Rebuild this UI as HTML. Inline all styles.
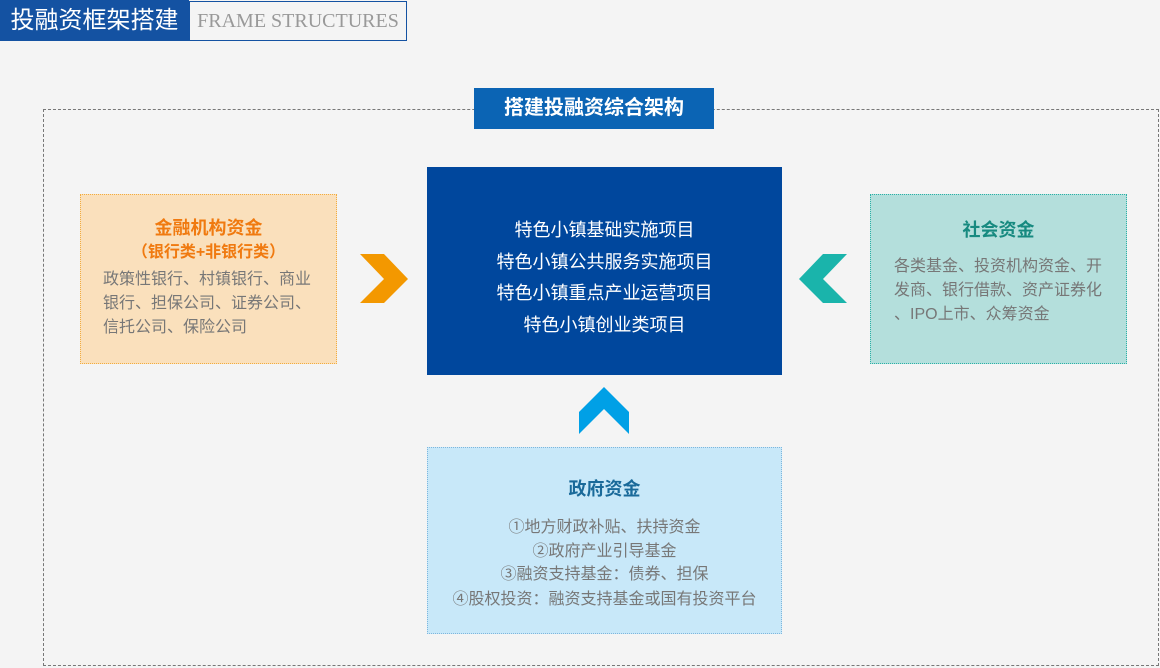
<!DOCTYPE html>
<html><head><meta charset="utf-8"><style>
body{margin:0;width:1160px;height:668px;background:#f4f4f4;position:relative;overflow:hidden;font-family:"Liberation Sans","Noto Sans CJK SC",sans-serif}
.a{position:absolute;box-sizing:border-box}
.c{text-align:center;left:0;right:0;position:absolute;white-space:nowrap}
</style></head><body>
<div class="a" style="left:0;top:0;width:189px;height:41px;background:#1452a2;color:#fff;font-size:24px;line-height:41px;text-align:center">投融资框架搭建</div>
<div class="a" style="left:189px;top:1px;width:218px;height:40px;border:1px solid #1452a2;color:#999;font-family:'Liberation Serif',serif;font-size:20px;line-height:38px;text-align:center">FRAME STRUCTURES</div>
<div class="a" style="left:43px;top:109px;width:1116px;height:557px;border:1px dashed #777"></div>
<div class="a" style="left:474px;top:88px;width:240px;height:41px;background:#0b64b4;color:#fff;font-size:20px;font-weight:bold;line-height:41px;text-align:center">搭建投融资综合架构</div>

<div class="a" style="left:80px;top:194px;width:257px;height:170px;background:#fae0bc;border:1px dotted #f2ac3f">
<div class="c" style="top:19px;color:#f07a10;font-weight:bold;font-size:18px">金融机构资金</div>
<div class="c" style="top:43px;color:#f07a10;font-weight:bold;font-size:16px">（银行类+非银行类）</div>
<div style="position:absolute;left:22px;top:73px;white-space:nowrap;color:#777;font-size:16px;line-height:24px">政策性银行、村镇银行、商业<br>银行、担保公司、证券公司、<br>信托公司、保险公司</div>
</div>

<div class="a" style="left:427px;top:167px;width:355px;height:208px;background:#00479d;color:#fff;font-size:18px">
<div class="c" style="top:49px">特色小镇基础实施项目</div>
<div class="c" style="top:81px">特色小镇公共服务实施项目</div>
<div class="c" style="top:112px">特色小镇重点产业运营项目</div>
<div class="c" style="top:144px">特色小镇创业类项目</div>
</div>

<div class="a" style="left:870px;top:194px;width:257px;height:170px;background:#b4dfdc;border:1px dotted #2ab0a6">
<div class="c" style="top:21px;color:#178a80;font-weight:bold;font-size:18px">社会资金</div>
<div style="position:absolute;left:23px;top:60px;white-space:nowrap;color:#777;font-size:16px;line-height:24px">各类基金、投资机构资金、开<br>发商、银行借款、资产证券化<br>、IPO上市、众筹资金</div>
</div>

<div class="a" style="left:427px;top:447px;width:355px;height:187px;background:#c8e8f9;border:1px dotted #7fb6dc;color:#777;font-size:16px">
<div class="c" style="top:27px;color:#1a6a9a;font-weight:bold;font-size:18px">政府资金</div>
<div class="c" style="top:65px">①地方财政补贴、扶持资金</div>
<div class="c" style="top:89px">②政府产业引导基金</div>
<div class="c" style="top:112px">③融资支持基金：债券、担保</div>
<div class="c" style="top:137px">④股权投资：融资支持基金或国有投资平台</div>
</div>

<svg class="a" style="left:0;top:0" width="1160" height="668">
<polygon points="360,254 384,254 408,279 384,303 360,303 384,279" fill="#f39800"/>
<polygon points="847,254 823,254 799,279 823,303 847,303 823,279" fill="#1ab4ab"/>
<polygon points="579,412 604,387 629,412 629,434 604,409 579,434" fill="#00a0e6"/>
</svg>
</body></html>
